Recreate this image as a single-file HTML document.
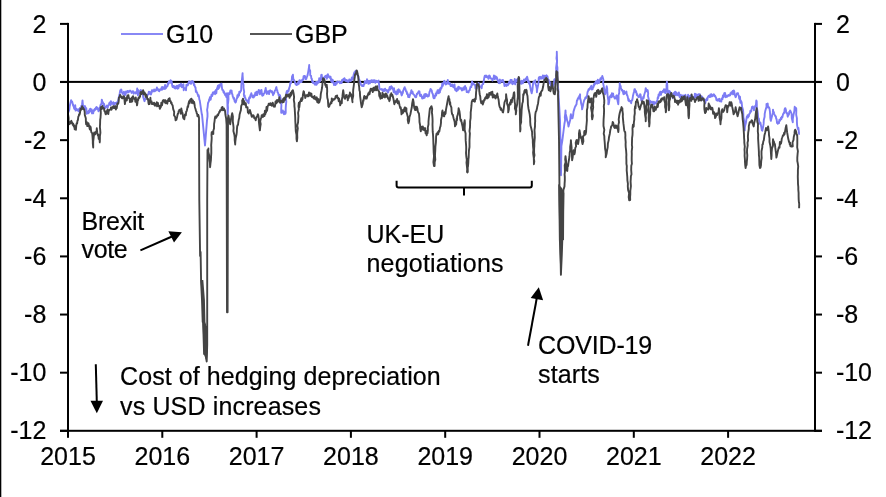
<!DOCTYPE html>
<html><head><meta charset="utf-8"><title>Chart</title>
<style>
html,body{margin:0;padding:0;background:#fff;}
body{width:886px;height:497px;overflow:hidden;position:relative;font-family:"Liberation Sans",sans-serif;}
svg{position:absolute;left:0;top:0;display:block;will-change:transform;opacity:0.999}
text{font-family:"Liberation Sans",sans-serif;font-size:25px;fill:#000;stroke:#000;stroke-width:0.2px}
</style></head><body>
<svg width="886" height="497" viewBox="0 0 886 497">
<rect x="0" y="0" width="886" height="497" fill="#fff"/>
<rect x="0" y="0" width="1.3" height="497" fill="#000"/>
<rect x="60" y="80.9" width="762" height="2" fill="#000"/>
<!-- series -->
<path d="M68.0,113.3 L69.3,109.7 L69.6,106.8 L70.5,102.8 L71.1,100.2 L71.4,100.7 L71.8,101.3 L72.2,101.9 L72.6,103.2 L72.9,104.6 L73.3,105.9 L73.7,106.2 L74.1,108.3 L74.5,109.0 L74.8,108.1 L75.2,105.1 L75.6,110.6 L76.0,108.9 L76.4,108.8 L76.8,110.2 L77.2,110.4 L77.6,110.4 L77.9,109.6 L78.3,111.0 L78.7,109.2 L79.1,111.3 L79.5,112.1 L79.9,108.0 L80.2,108.4 L80.6,107.8 L81.0,107.1 L81.4,105.7 L81.7,105.7 L82.1,104.2 L82.5,100.4 L82.9,105.1 L83.2,105.6 L83.6,105.8 L84.0,108.7 L84.4,106.3 L84.8,107.9 L85.1,106.2 L85.5,109.5 L85.9,107.8 L86.3,108.4 L86.6,113.7 L87.0,112.3 L87.4,112.0 L87.8,112.8 L88.2,113.3 L88.5,111.0 L88.9,111.1 L89.3,112.5 L89.7,109.1 L90.0,111.6 L90.4,108.8 L90.8,110.6 L91.2,110.3 L91.6,109.4 L92.0,113.4 L92.4,113.2 L92.8,111.9 L93.2,113.3 L93.6,110.1 L93.9,110.7 L94.3,110.8 L94.7,108.9 L95.1,109.7 L95.4,109.8 L95.8,107.8 L96.2,107.3 L96.6,106.9 L96.9,108.8 L97.3,107.9 L97.7,109.6 L98.1,108.6 L98.5,111.3 L98.8,109.4 L99.2,110.3 L99.6,107.7 L100.0,108.0 L100.3,105.9 L100.7,104.4 L101.1,104.3 L101.5,104.2 L101.8,99.6 L102.2,101.2 L102.6,101.9 L103.0,102.6 L103.4,103.5 L103.7,105.6 L104.1,103.9 L104.5,107.2 L104.9,106.9 L105.2,108.3 L105.6,107.7 L106.0,106.8 L106.4,106.2 L106.9,105.5 L107.3,106.1 L107.7,107.7 L108.1,105.9 L108.5,105.1 L108.9,104.3 L109.3,103.2 L109.7,102.4 L110.1,103.6 L110.5,105.3 L110.9,101.1 L111.3,103.6 L111.7,103.7 L112.1,102.8 L112.5,103.3 L112.9,103.9 L113.3,102.2 L113.7,104.9 L114.1,103.9 L114.5,104.4 L114.9,102.9 L115.3,103.6 L115.7,103.0 L116.1,103.2 L116.5,102.4 L116.9,103.9 L117.3,103.2 L118.4,99.9 L118.9,97.0 L119.6,93.9 L120.3,90.2 L120.7,90.8 L121.1,89.5 L121.5,90.1 L121.9,92.6 L122.3,92.9 L122.7,93.9 L123.1,93.2 L123.5,93.6 L123.9,91.8 L124.3,94.2 L124.7,95.5 L125.1,92.4 L125.6,94.5 L126.0,91.5 L126.4,91.8 L126.8,92.5 L127.2,91.5 L127.6,90.9 L128.0,92.5 L128.4,91.2 L128.8,92.0 L129.2,91.8 L129.6,91.0 L130.0,90.5 L130.4,91.1 L130.8,91.1 L131.2,91.8 L131.6,92.9 L132.0,91.8 L132.4,92.2 L132.8,91.2 L133.2,91.4 L133.6,93.7 L134.0,92.3 L134.4,92.4 L134.8,92.5 L135.2,92.9 L135.6,92.3 L136.0,93.6 L136.4,92.2 L136.8,93.0 L137.2,88.5 L137.6,91.7 L138.0,95.3 L138.4,90.1 L138.8,91.7 L139.2,92.8 L139.6,91.4 L140.0,92.9 L140.4,91.2 L140.8,90.0 L141.2,90.5 L141.6,92.1 L142.0,91.9 L142.4,93.2 L142.8,93.5 L143.2,97.1 L143.6,98.3 L144.0,99.6 L144.5,101.2 L144.9,99.7 L145.3,99.5 L145.7,98.1 L146.1,96.3 L146.5,96.2 L146.9,96.2 L147.3,95.4 L147.7,94.5 L148.1,94.6 L148.5,93.2 L148.9,91.6 L149.3,92.6 L149.7,91.9 L150.1,94.0 L150.5,92.8 L150.9,94.5 L151.3,93.7 L151.7,91.1 L152.1,90.1 L152.5,91.2 L152.9,91.6 L153.3,90.6 L153.7,90.7 L154.1,89.5 L154.5,91.4 L154.9,90.8 L155.3,90.9 L155.7,90.7 L156.1,89.2 L156.5,90.2 L156.9,87.4 L157.3,89.6 L157.7,89.1 L158.1,89.1 L158.5,90.8 L158.9,89.4 L159.3,91.3 L159.7,89.6 L160.1,90.1 L160.5,89.2 L160.9,89.6 L161.3,89.7 L161.7,87.1 L162.0,89.7 L162.4,88.3 L162.8,86.9 L163.2,88.6 L163.6,88.1 L163.9,89.0 L164.3,88.1 L164.7,87.5 L165.1,84.9 L165.4,88.7 L165.8,88.3 L166.2,87.3 L166.6,86.1 L167.0,86.1 L167.4,86.4 L167.8,83.3 L168.2,84.6 L168.6,83.2 L169.0,81.3 L169.4,82.4 L169.8,81.7 L170.2,82.8 L170.6,80.1 L171.0,82.6 L171.4,81.0 L171.8,82.0 L172.2,85.6 L172.6,87.1 L173.0,87.1 L173.4,86.4 L173.8,86.0 L174.2,87.7 L174.6,88.2 L175.0,86.6 L175.4,86.9 L175.7,88.6 L176.1,87.7 L176.5,86.3 L176.9,85.7 L177.3,86.6 L177.6,88.7 L178.0,85.8 L178.4,88.3 L178.8,85.1 L179.1,85.6 L179.5,86.5 L179.9,84.6 L180.3,85.4 L180.6,85.1 L181.0,83.7 L181.4,86.4 L181.8,87.2 L182.2,85.3 L182.6,86.5 L183.0,86.0 L183.4,84.2 L183.7,90.3 L184.1,88.0 L184.5,88.4 L184.9,88.2 L185.3,88.1 L185.7,88.2 L186.0,90.4 L186.4,84.7 L186.8,85.9 L187.2,85.1 L187.6,84.8 L187.9,85.2 L188.3,82.9 L188.7,83.1 L189.1,81.3 L189.5,81.4 L189.9,83.1 L190.3,83.5 L190.7,83.1 L191.1,83.8 L191.5,81.1 L191.9,82.7 L192.3,82.1 L192.7,81.1 L193.1,81.9 L193.5,82.2 L193.9,85.2 L194.3,84.3 L194.7,86.1 L195.1,87.0 L195.5,87.4 L195.9,91.9 L196.3,90.9 L196.7,92.2 L197.1,92.6 L197.5,93.9 L197.9,94.9 L198.2,96.3 L198.6,95.1 L199.0,96.8 L199.4,99.8 L199.7,100.2 L201.8,114.3 L202.0,114.3 L205.0,145.5 L207.0,120.3 L207.5,116.4 L207.5,113.2 L207.1,109.9 L207.6,107.1 L208.0,103.2 L208.4,102.2 L208.8,101.7 L209.2,99.2 L209.6,100.4 L209.9,97.1 L210.3,99.0 L210.7,99.6 L211.1,97.2 L211.5,94.7 L211.9,96.2 L212.3,95.9 L212.7,92.9 L213.1,92.2 L213.5,93.9 L213.9,93.1 L214.3,92.8 L214.7,91.4 L215.1,94.2 L215.5,91.7 L215.9,90.0 L216.3,93.4 L216.7,89.7 L217.1,88.2 L217.5,87.5 L217.9,85.7 L218.3,89.0 L218.7,85.1 L219.1,87.9 L219.5,87.0 L219.9,85.4 L220.3,84.1 L220.7,84.5 L221.1,84.1 L221.5,83.7 L221.9,87.3 L222.3,89.8 L222.7,90.0 L223.1,90.2 L223.5,92.4 L223.9,91.3 L224.3,93.5 L224.7,93.0 L225.1,95.2 L225.5,94.2 L225.9,95.3 L226.3,97.0 L226.7,93.7 L227.1,93.2 L227.7,114.3 L227.9,110.3 L228.0,107.8 L227.8,104.5 L228.2,102.0 L228.5,99.1 L228.4,96.9 L228.6,93.2 L228.9,93.9 L229.3,93.5 L229.7,94.1 L230.0,92.3 L230.4,90.5 L230.8,90.5 L231.2,91.2 L231.6,90.5 L232.0,94.0 L232.4,94.3 L232.8,96.6 L233.2,97.2 L233.6,98.9 L233.9,97.7 L234.3,99.6 L234.7,101.6 L235.0,100.9 L235.4,102.6 L235.8,102.2 L236.2,100.8 L236.6,98.7 L237.0,98.4 L237.4,95.3 L237.8,97.2 L238.2,95.2 L238.6,93.9 L239.0,95.6 L239.3,91.8 L239.7,92.8 L240.1,92.5 L240.5,91.2 L240.8,91.2 L241.2,90.2 L241.3,86.2 L241.5,83.0 L241.9,80.0 L242.3,76.2 L242.6,73.1 L242.6,75.1 L242.9,79.3 L242.8,82.0 L243.5,84.8 L243.5,87.9 L244.2,91.9 L243.8,94.2 L244.2,96.6 L244.6,95.4 L245.0,98.0 L245.4,98.0 L245.8,99.6 L246.2,100.2 L246.6,99.9 L247.1,101.2 L247.5,100.5 L247.9,102.2 L248.3,102.2 L248.6,103.2 L249.0,98.3 L249.4,97.2 L249.8,98.3 L250.1,97.5 L250.5,95.0 L250.9,95.0 L251.3,93.2 L251.7,94.5 L252.1,95.5 L252.5,97.3 L252.9,95.6 L253.3,97.2 L253.7,97.5 L254.0,96.4 L254.4,94.9 L254.8,95.8 L255.2,93.1 L255.5,92.4 L255.9,95.0 L256.3,93.2 L256.7,91.7 L257.1,95.0 L257.5,94.1 L257.9,92.1 L258.3,91.6 L258.7,89.9 L259.1,92.4 L259.5,90.4 L259.9,94.2 L260.3,92.2 L260.7,90.5 L261.1,93.0 L261.5,90.0 L261.8,93.2 L262.2,95.7 L262.6,93.9 L263.0,93.8 L263.3,95.2 L263.7,93.6 L264.1,93.6 L264.5,93.3 L264.9,90.9 L265.3,90.2 L265.7,87.9 L266.1,91.0 L266.5,92.1 L266.9,94.0 L267.2,91.6 L267.6,91.9 L268.0,91.3 L268.4,92.2 L268.7,93.0 L269.1,94.1 L269.5,90.6 L269.9,91.8 L270.3,90.3 L270.6,90.6 L271.0,91.1 L271.4,91.2 L271.8,92.4 L272.2,91.3 L272.6,92.6 L273.0,95.2 L273.4,94.2 L273.8,93.9 L274.1,93.3 L274.5,92.0 L274.9,90.4 L275.3,90.3 L275.7,89.5 L276.0,88.0 L276.4,87.1 L276.8,89.8 L277.2,90.0 L277.6,92.5 L278.0,92.8 L278.4,94.2 L278.8,95.7 L279.2,94.6 L279.6,95.3 L280.0,95.2 L280.4,97.2 L281.0,101.2 L281.4,105.3 L281.2,109.2 L281.2,112.7 L281.6,111.7 L282.0,112.8 L282.4,112.1 L282.8,110.4 L283.2,112.3 L283.6,111.6 L284.0,114.4 L284.5,111.8 L284.9,111.9 L285.3,113.9 L285.7,112.7 L285.7,108.5 L285.9,105.3 L286.3,101.6 L285.8,97.3 L286.1,95.2 L286.5,92.2 L286.9,91.1 L287.3,94.1 L287.7,91.4 L288.1,90.2 L288.5,91.2 L289.2,88.0 L289.8,86.4 L290.5,82.1 L290.9,83.4 L291.3,81.7 L291.7,80.5 L292.1,76.2 L292.5,76.1 L292.9,74.7 L293.3,79.0 L293.7,79.6 L294.1,80.2 L294.5,81.1 L294.9,81.8 L295.3,83.6 L295.7,84.2 L296.1,84.6 L296.5,85.1 L296.9,85.1 L297.3,83.6 L297.6,82.8 L298.0,84.3 L298.4,81.7 L298.8,83.8 L299.2,81.5 L299.5,80.1 L299.9,80.6 L300.3,82.3 L300.7,80.7 L301.1,81.5 L301.5,82.1 L301.9,80.5 L302.3,79.7 L302.7,79.3 L303.2,79.8 L303.6,76.1 L304.0,77.3 L304.4,76.0 L304.8,76.9 L305.2,76.3 L305.6,79.1 L306.0,79.2 L306.4,78.6 L306.8,77.1 L307.2,76.3 L307.6,75.1 L308.2,71.9 L308.8,68.5 L309.2,65.0 L309.3,68.9 L310.2,70.9 L310.2,75.1 L310.6,75.8 L311.0,75.7 L311.4,78.7 L311.8,78.7 L312.2,81.9 L312.6,81.1 L313.0,83.1 L313.4,81.7 L313.8,82.3 L314.2,82.8 L314.6,84.1 L315.0,84.7 L315.4,82.7 L315.7,84.3 L316.1,81.9 L316.5,84.8 L316.9,84.0 L317.3,81.8 L317.6,83.1 L318.0,81.8 L318.4,82.6 L318.8,82.5 L319.2,78.3 L319.6,81.7 L320.0,81.1 L321.0,77.9 L321.2,75.1 L321.7,74.7 L322.2,79.1 L322.6,79.1 L323.1,80.1 L323.4,79.9 L323.8,80.0 L324.2,77.3 L324.6,77.6 L324.9,76.6 L325.3,76.1 L325.7,77.1 L326.0,76.6 L326.4,75.5 L326.8,78.7 L327.2,77.2 L327.6,77.5 L327.9,74.3 L328.3,75.9 L328.7,76.1 L329.1,76.3 L329.4,77.0 L329.8,77.8 L330.2,76.6 L330.6,76.8 L330.9,79.5 L331.3,81.5 L331.7,79.1 L332.1,82.3 L332.5,80.0 L332.8,80.0 L333.2,81.8 L333.6,82.8 L334.0,85.0 L334.3,83.2 L334.7,84.1 L335.1,83.0 L335.5,85.0 L335.9,82.6 L336.3,82.3 L336.7,83.8 L337.1,82.7 L337.5,81.4 L337.9,82.2 L338.3,81.8 L338.7,82.1 L339.1,82.0 L339.5,81.6 L339.9,83.4 L340.3,82.5 L340.8,83.1 L341.2,81.7 L341.6,83.1 L342.0,80.0 L342.4,81.4 L342.8,80.5 L343.2,79.1 L343.6,79.0 L344.0,79.9 L344.4,78.1 L344.8,80.5 L345.2,79.3 L345.6,79.8 L346.0,81.1 L346.4,81.3 L346.8,80.0 L347.2,81.0 L347.6,81.2 L348.0,81.9 L348.4,81.0 L348.8,81.7 L349.2,79.4 L349.7,79.7 L350.1,80.1 L350.4,80.6 L350.8,81.0 L351.2,79.9 L351.6,78.4 L351.9,77.5 L352.3,77.4 L352.7,79.7 L353.1,78.1 L353.6,75.0 L354.5,72.1 L354.9,72.6 L355.3,72.2 L355.7,70.6 L356.1,73.7 L356.5,71.1 L356.9,72.5 L357.3,73.8 L357.7,75.7 L358.1,75.5 L358.5,77.1 L358.9,79.4 L359.3,79.9 L359.7,80.5 L360.1,83.1 L360.5,82.6 L360.9,84.8 L361.3,85.0 L361.7,85.3 L362.1,86.1 L362.5,85.2 L362.9,85.1 L363.2,86.0 L363.6,86.0 L364.0,83.9 L364.4,84.2 L364.8,81.2 L365.1,83.1 L365.5,81.5 L365.9,81.8 L366.3,81.3 L366.6,83.0 L367.0,79.3 L367.4,82.2 L367.8,82.2 L368.2,81.1 L368.5,83.9 L368.9,80.8 L369.3,82.0 L369.7,83.4 L370.0,82.9 L370.4,80.7 L370.8,81.6 L371.2,82.1 L371.6,80.3 L372.0,81.4 L372.4,81.7 L372.8,82.2 L373.2,80.1 L373.6,81.0 L373.9,81.7 L374.3,82.1 L374.7,80.1 L375.1,82.2 L375.4,82.8 L375.8,81.6 L376.2,82.1 L376.6,80.8 L377.0,81.9 L377.4,81.7 L377.8,82.1 L378.2,81.1 L378.6,80.6 L379.0,83.9 L379.4,88.4 L379.8,89.1 L380.2,89.2 L380.6,89.2 L381.0,89.3 L381.3,89.6 L381.7,89.0 L382.1,89.9 L382.5,90.6 L382.9,89.5 L383.2,91.2 L383.6,90.9 L384.0,91.2 L384.4,89.2 L384.7,90.1 L385.1,88.7 L385.5,90.5 L385.9,90.6 L386.2,90.2 L386.6,89.9 L387.1,91.1 L387.5,92.0 L387.9,92.6 L388.3,92.2 L388.6,89.8 L389.0,90.3 L389.4,88.2 L389.8,86.9 L390.1,89.6 L390.5,88.6 L390.9,88.4 L391.3,86.1 L391.7,87.9 L392.1,87.1 L392.5,88.8 L392.9,88.7 L393.3,90.2 L393.7,92.2 L394.0,88.1 L394.4,91.8 L394.8,91.0 L395.2,92.9 L395.5,93.9 L395.9,92.0 L396.3,93.2 L396.7,94.4 L397.1,93.7 L397.4,90.1 L397.8,93.9 L398.2,89.9 L398.6,89.3 L398.9,91.7 L399.3,90.2 L399.7,90.1 L400.1,92.0 L400.5,92.5 L400.9,92.1 L401.3,94.2 L401.7,95.4 L402.1,94.5 L402.5,92.0 L402.8,93.1 L403.2,90.4 L403.6,90.0 L404.0,88.5 L404.3,88.2 L404.7,87.2 L405.1,89.0 L405.5,88.9 L405.9,91.2 L406.2,91.5 L406.6,91.2 L407.0,94.1 L407.4,93.2 L407.8,94.4 L408.2,97.0 L408.6,95.1 L409.0,95.9 L409.4,97.2 L409.8,94.9 L410.2,94.7 L410.6,92.8 L411.0,91.6 L411.4,90.2 L411.8,93.1 L412.2,92.7 L412.6,91.8 L413.0,93.9 L413.4,94.2 L413.8,94.5 L414.2,95.0 L414.6,95.7 L415.0,96.7 L415.4,97.2 L415.8,97.3 L416.2,97.2 L416.5,95.4 L416.9,93.7 L417.3,94.1 L417.7,93.2 L418.0,92.5 L418.4,92.2 L418.8,91.2 L419.2,93.0 L419.5,91.5 L419.9,95.7 L420.3,95.6 L420.7,96.1 L421.1,94.6 L421.4,96.2 L421.8,96.9 L422.2,98.5 L422.6,97.1 L423.0,96.5 L423.4,98.2 L423.8,97.6 L424.2,94.5 L424.6,97.8 L425.0,96.7 L425.3,94.0 L425.7,96.0 L426.1,96.1 L426.5,94.2 L426.9,95.2 L427.3,95.4 L427.7,96.6 L428.1,95.3 L428.5,95.2 L428.9,95.9 L429.3,92.9 L429.7,91.3 L430.1,90.8 L430.5,88.9 L430.9,89.2 L431.3,90.6 L431.7,90.3 L432.1,92.6 L432.5,93.6 L432.9,94.2 L433.3,97.2 L433.7,98.3 L434.1,96.5 L434.5,98.2 L434.9,96.8 L435.3,95.6 L435.7,93.8 L436.1,95.6 L436.5,92.2 L436.9,93.5 L437.3,91.7 L437.6,90.1 L438.0,90.9 L438.4,91.6 L438.8,93.3 L439.2,89.8 L439.5,91.2 L439.9,92.3 L440.3,88.2 L440.7,89.8 L441.1,87.4 L441.5,88.2 L441.9,86.6 L442.3,83.3 L442.7,85.9 L443.2,84.2 L443.6,83.1 L443.9,82.0 L444.3,80.8 L444.7,83.4 L445.1,83.6 L445.4,82.0 L445.8,84.5 L446.2,83.8 L446.6,84.1 L447.0,82.4 L447.4,82.4 L447.8,80.0 L448.2,83.4 L448.6,82.1 L449.0,84.1 L449.4,83.5 L449.8,83.0 L450.2,84.0 L450.6,86.1 L451.0,85.6 L451.4,84.7 L451.8,86.0 L452.2,84.4 L452.6,86.4 L453.0,85.1 L453.4,87.3 L453.8,85.8 L454.1,86.3 L454.5,84.4 L454.9,88.8 L455.2,89.9 L455.6,90.2 L456.0,88.9 L456.4,91.2 L456.7,89.0 L457.1,88.2 L457.5,90.5 L457.9,89.9 L458.3,86.8 L458.6,89.2 L459.0,88.1 L459.4,87.2 L459.8,88.3 L460.2,88.6 L460.6,88.2 L461.0,88.0 L461.4,89.1 L461.9,90.4 L462.3,89.4 L462.7,90.2 L463.1,87.9 L463.5,87.6 L463.9,89.1 L464.3,89.5 L464.7,86.6 L465.1,86.1 L465.5,87.8 L465.9,87.6 L466.3,89.0 L466.7,92.1 L467.1,92.2 L467.5,91.3 L467.8,91.8 L468.2,91.4 L468.6,92.4 L468.9,91.0 L469.3,90.4 L469.7,90.2 L470.1,88.4 L470.5,86.7 L470.9,87.1 L471.3,87.1 L471.7,83.1 L472.1,81.5 L472.5,84.8 L472.8,82.7 L473.2,83.4 L473.6,84.0 L474.0,84.1 L474.3,84.4 L474.7,85.1 L475.1,85.0 L475.5,88.5 L475.9,85.2 L476.3,86.7 L476.7,88.2 L477.1,86.2 L477.5,86.3 L477.9,83.6 L478.3,84.1 L478.7,83.1 L479.1,84.0 L479.5,87.0 L479.9,86.3 L480.3,86.3 L480.8,87.1 L481.2,86.8 L481.6,88.3 L482.0,85.5 L482.4,84.3 L482.8,83.9 L483.2,84.1 L483.7,81.1 L484.4,77.2 L484.8,75.8 L485.2,76.2 L485.5,76.7 L485.9,75.5 L486.3,77.2 L486.7,75.8 L487.0,76.2 L487.4,76.9 L487.8,77.0 L488.2,78.3 L488.5,78.8 L488.9,75.8 L489.3,75.4 L489.7,75.7 L490.1,77.2 L490.5,78.2 L490.9,78.6 L491.3,78.4 L491.7,78.7 L492.1,79.2 L492.4,80.6 L492.8,79.5 L493.2,78.3 L493.6,78.4 L493.9,75.5 L494.3,78.3 L494.7,79.0 L495.1,76.2 L495.5,76.8 L495.9,76.5 L496.3,78.9 L496.7,77.2 L497.1,78.2 L497.5,79.3 L497.9,80.9 L498.3,81.0 L498.7,83.1 L499.1,83.2 L499.5,80.5 L499.9,79.6 L500.2,83.0 L500.6,82.3 L501.0,81.6 L501.4,80.5 L501.7,80.6 L502.1,80.2 L502.5,81.3 L502.9,80.0 L503.3,82.3 L503.7,81.7 L504.1,83.2 L504.5,86.0 L504.9,84.2 L505.3,84.3 L505.6,85.4 L506.0,85.6 L506.4,85.9 L506.8,84.2 L507.1,85.2 L507.5,84.9 L507.9,85.3 L508.3,84.0 L508.7,83.4 L509.0,82.0 L509.4,82.5 L509.8,83.4 L510.2,81.2 L510.5,79.9 L510.9,79.8 L511.3,80.2 L511.7,79.9 L512.0,83.4 L512.4,84.2 L512.8,82.7 L513.2,82.2 L513.6,82.2 L513.9,83.6 L514.3,83.1 L514.7,79.0 L515.1,81.5 L515.4,84.4 L515.8,80.9 L516.2,81.2 L516.6,79.9 L517.0,79.5 L517.4,81.6 L517.8,78.7 L518.2,79.2 L518.6,78.2 L519.0,80.9 L519.4,80.9 L519.8,82.0 L520.2,83.2 L520.6,81.7 L521.0,81.3 L521.3,83.8 L521.7,80.7 L522.1,83.3 L522.5,83.2 L522.9,83.3 L523.2,81.2 L523.6,80.6 L524.0,79.5 L524.4,80.2 L524.7,81.3 L525.1,80.0 L525.5,79.5 L525.9,78.4 L526.2,78.2 L526.6,79.7 L527.1,76.7 L527.5,78.0 L527.9,81.7 L528.3,80.2 L528.7,82.2 L529.1,83.9 L529.5,82.2 L529.9,84.8 L530.3,87.3 L530.9,90.2 L531.7,93.3 L532.5,89.3 L532.8,85.6 L533.3,82.2 L533.7,81.6 L534.1,81.9 L534.5,81.5 L534.9,81.8 L535.3,80.2 L535.4,83.6 L536.2,85.9 L536.8,88.9 L536.9,92.3 L537.3,89.0 L538.1,85.0 L538.6,81.9 L538.7,78.2 L539.1,77.2 L539.5,78.8 L539.8,77.9 L540.2,76.8 L540.6,77.3 L541.0,78.8 L541.3,77.2 L541.7,77.6 L542.1,76.9 L542.5,78.2 L542.8,75.5 L543.2,78.0 L543.6,78.8 L544.0,75.8 L544.3,77.2 L544.7,75.8 L545.1,75.9 L545.5,76.6 L545.9,75.8 L546.2,76.6 L546.6,75.3 L547.0,76.7 L547.4,76.2 L547.8,78.3 L548.2,79.6 L548.6,79.7 L549.0,82.8 L549.4,83.2 L549.8,81.8 L550.2,83.3 L550.6,84.4 L551.0,86.4 L551.4,85.2 L551.8,84.4 L552.2,85.2 L552.6,86.0 L553.0,86.0 L553.4,83.2 L553.9,84.0 L554.3,79.6 L554.8,79.2 L555.3,78.9 L555.7,78.5 L556.2,77.2 L556.4,74.3 L556.3,70.8 L556.1,68.0 L556.6,64.2 L557.0,61.2 L556.5,58.3 L556.8,55.2 L556.8,51.7 L556.9,55.4 L557.0,58.9 L557.1,61.2 L556.9,65.2 L557.4,67.5 L557.4,71.5 L557.4,74.5 L557.4,78.2 L557.4,81.4 L557.7,85.0 L558.2,88.8 L558.4,92.3 L560.0,120.4 L560.6,150.0 L561.0,175.3 L561.4,146.0 L562.4,140.0 L563.4,132.0 L564.4,124.0 L565.1,120.1 L564.8,117.2 L565.3,113.3 L565.5,110.4 L565.7,113.9 L566.6,117.4 L567.1,120.4 L567.9,122.7 L568.5,126.5 L569.4,123.1 L570.3,119.6 L570.5,116.4 L570.9,114.3 L571.3,117.1 L571.7,117.9 L572.1,118.4 L572.5,118.4 L573.2,114.8 L573.5,111.6 L574.5,108.4 L574.9,107.2 L575.3,106.0 L575.7,106.0 L576.1,104.8 L576.5,104.3 L576.9,100.5 L577.3,100.4 L577.7,98.8 L578.1,98.3 L578.5,97.2 L578.9,98.6 L579.3,95.9 L579.7,95.8 L580.1,94.3 L580.1,97.9 L580.8,100.6 L581.1,103.3 L581.9,106.3 L582.1,109.4 L582.9,106.0 L583.3,103.5 L584.2,100.3 L584.6,99.4 L585.0,99.1 L585.4,97.5 L585.8,97.2 L586.2,97.9 L586.6,96.3 L587.0,96.6 L587.4,93.0 L587.8,91.3 L588.2,90.8 L588.6,89.3 L589.0,90.0 L589.4,88.8 L589.8,89.3 L590.2,87.4 L590.6,87.3 L591.0,86.5 L591.4,85.8 L591.8,89.5 L592.2,89.2 L592.6,89.3 L593.0,87.3 L593.4,87.3 L593.8,84.3 L594.2,85.7 L594.6,83.2 L595.0,84.1 L595.4,83.8 L595.8,81.5 L596.2,83.3 L596.6,81.2 L597.0,82.4 L597.4,83.5 L597.8,79.8 L598.2,83.1 L598.6,82.2 L599.0,83.0 L599.4,80.3 L599.8,80.9 L600.2,79.2 L600.6,78.2 L601.0,79.7 L601.4,77.5 L601.9,77.7 L602.3,76.0 L602.7,77.2 L603.4,79.8 L603.1,82.8 L603.7,86.2 L604.4,90.3 L605.1,94.3 L606.0,91.0 L606.7,86.2 L607.2,88.6 L607.3,92.2 L607.6,95.4 L608.0,98.4 L608.4,100.9 L608.3,104.3 L608.7,104.1 L609.1,102.2 L609.5,98.7 L609.9,96.4 L610.3,96.3 L610.7,95.2 L611.1,96.1 L611.5,97.3 L611.9,93.3 L612.3,94.3 L612.7,94.3 L613.1,93.5 L613.5,96.6 L613.9,96.5 L614.3,97.0 L614.7,98.5 L615.1,98.3 L615.5,97.9 L615.9,98.5 L616.3,95.7 L616.7,95.3 L617.1,98.3 L617.8,102.0 L618.3,104.3 L618.5,101.1 L618.6,97.9 L618.5,95.4 L619.3,92.4 L619.2,89.7 L619.7,86.4 L619.7,83.2 L620.1,85.4 L620.6,85.9 L621.0,87.9 L621.4,89.5 L621.8,90.3 L622.2,89.7 L622.6,91.3 L623.0,91.9 L623.4,94.0 L623.8,94.3 L624.1,90.9 L624.5,93.9 L624.9,93.2 L625.3,92.7 L625.7,93.0 L626.0,92.2 L626.4,91.6 L626.8,94.9 L627.2,94.9 L627.6,96.3 L628.0,98.2 L628.4,100.5 L628.8,99.1 L629.2,101.4 L629.6,100.7 L629.9,101.0 L630.3,101.5 L630.7,100.9 L631.1,103.2 L631.5,101.2 L631.9,100.2 L632.3,100.1 L632.7,97.7 L633.1,95.2 L634.0,91.7 L634.5,89.2 L634.9,89.1 L635.3,91.2 L635.7,92.2 L636.1,91.1 L636.5,93.2 L636.9,95.2 L637.3,94.1 L637.7,95.9 L638.1,95.9 L638.5,97.2 L638.9,97.3 L639.3,96.7 L639.7,96.2 L640.1,94.2 L640.5,94.3 L640.9,96.8 L641.3,100.5 L641.7,99.0 L642.1,100.2 L642.5,99.8 L642.9,98.4 L643.3,96.6 L643.7,98.2 L644.1,95.2 L645.3,91.3 L645.7,88.2 L646.1,89.2 L646.5,91.2 L646.9,89.9 L647.3,89.9 L647.7,90.2 L648.2,93.6 L647.9,95.8 L648.7,98.9 L648.6,102.2 L648.9,102.2 L649.3,101.5 L649.7,104.5 L650.0,100.8 L650.4,102.5 L650.8,101.8 L651.2,102.2 L651.6,102.3 L652.0,101.6 L652.4,102.5 L652.8,103.6 L653.2,104.2 L653.6,104.4 L653.9,101.8 L654.3,103.9 L654.7,102.7 L655.0,103.5 L655.4,102.9 L655.8,103.2 L656.2,102.3 L656.6,101.3 L657.0,101.3 L657.4,99.9 L657.8,97.1 L658.2,98.2 L658.6,94.4 L659.0,94.5 L659.4,95.5 L659.8,92.2 L660.2,93.2 L660.6,91.7 L661.0,94.8 L661.3,92.0 L661.7,91.9 L662.1,92.3 L662.5,92.4 L662.9,90.8 L663.2,91.2 L663.6,91.4 L664.0,89.1 L664.4,92.0 L664.7,92.4 L665.1,89.8 L665.5,93.1 L665.8,92.2 L666.6,87.4 L666.5,85.9 L666.9,81.7 L667.3,85.2 L667.4,89.2 L667.9,93.2 L668.3,93.8 L668.7,91.8 L669.1,90.9 L669.5,92.7 L669.9,91.4 L670.3,92.2 L670.7,95.2 L671.1,93.0 L671.5,95.5 L671.9,95.9 L672.3,95.4 L672.7,98.2 L673.1,96.3 L673.5,93.3 L673.9,94.9 L674.3,93.2 L674.7,92.2 L675.0,91.9 L675.4,91.7 L675.8,95.3 L676.2,94.4 L676.6,92.7 L676.9,93.8 L677.3,94.2 L677.7,95.1 L678.1,95.3 L678.5,94.8 L678.9,92.5 L679.3,95.2 L679.7,97.4 L680.1,95.5 L680.4,97.6 L680.8,94.7 L681.2,97.4 L681.6,98.3 L682.0,98.3 L682.3,97.2 L682.7,95.5 L683.1,96.5 L683.5,98.4 L683.9,95.4 L684.3,96.2 L684.7,97.1 L685.1,96.2 L685.5,94.8 L685.9,97.8 L686.2,98.1 L686.6,97.7 L687.0,97.4 L687.4,97.2 L687.7,98.3 L688.1,94.6 L688.5,96.8 L688.9,98.7 L689.2,97.2 L689.6,97.7 L690.0,96.0 L690.4,96.2 L690.8,96.7 L691.1,95.1 L691.5,97.2 L691.9,97.0 L692.3,96.4 L692.6,96.9 L693.0,97.2 L693.4,97.2 L693.8,97.2 L694.1,97.6 L694.5,97.7 L694.9,93.6 L695.3,96.2 L695.7,97.0 L696.0,94.1 L696.4,95.2 L696.8,95.1 L697.2,98.3 L697.5,94.8 L697.9,96.9 L698.3,96.1 L698.7,94.2 L699.0,95.8 L699.4,96.2 L699.8,94.1 L700.2,96.0 L700.6,97.7 L700.9,97.5 L701.3,97.2 L701.7,96.3 L702.1,97.8 L702.4,97.2 L702.8,99.3 L703.2,99.4 L703.6,100.3 L703.9,100.3 L704.3,100.9 L704.7,99.9 L705.1,103.4 L705.5,102.2 L705.8,100.2 L706.2,99.7 L706.6,99.1 L707.0,98.3 L707.3,100.1 L707.7,97.5 L708.1,96.6 L708.5,96.2 L708.8,95.6 L709.2,95.7 L709.6,97.0 L710.0,97.0 L710.4,94.4 L710.7,96.7 L711.1,95.2 L711.5,94.2 L711.9,94.8 L712.2,96.3 L712.6,95.1 L713.0,95.6 L713.4,95.6 L713.8,94.3 L714.1,94.5 L714.5,96.2 L714.9,95.5 L715.3,96.2 L715.6,97.0 L716.0,97.6 L716.4,100.0 L716.8,99.2 L717.1,100.6 L717.5,100.2 L717.9,100.8 L718.3,99.4 L718.7,100.3 L719.0,98.9 L719.4,98.8 L719.8,101.4 L720.2,101.0 L720.5,101.2 L720.9,100.9 L721.3,101.6 L721.7,98.4 L722.1,99.4 L722.5,99.2 L722.9,95.5 L723.4,96.1 L723.8,96.9 L724.2,93.3 L724.6,94.2 L725.0,93.0 L725.4,94.6 L725.8,97.4 L726.2,96.7 L726.6,96.2 L726.9,95.8 L727.3,96.7 L727.7,95.9 L728.1,95.2 L728.5,94.9 L728.8,95.9 L729.2,95.1 L729.6,95.2 L730.0,95.5 L730.4,93.3 L730.8,94.3 L731.2,92.3 L731.6,92.2 L732.0,93.4 L732.3,93.0 L732.7,90.9 L733.1,94.3 L733.5,91.9 L733.8,90.5 L734.2,91.2 L734.6,94.2 L735.6,97.2 L736.0,96.5 L736.4,94.7 L736.8,93.5 L737.2,93.4 L737.6,93.2 L738.0,93.1 L738.4,94.8 L738.8,95.7 L739.2,98.5 L739.6,99.2 L740.0,96.8 L740.4,102.8 L740.8,100.5 L741.2,101.5 L741.6,102.2 L742.1,106.8 L743.1,110.3 L743.3,113.4 L743.4,117.3 L744.0,120.0 L744.5,123.2 L744.7,127.1 L744.7,130.4 L744.9,126.8 L745.8,123.3 L746.3,120.0 L746.8,116.7 L747.2,116.7 L747.6,115.1 L748.0,117.6 L748.4,115.4 L748.8,116.4 L749.2,113.9 L749.6,113.8 L750.0,113.1 L750.4,110.6 L750.8,110.8 L751.2,111.6 L751.6,109.2 L752.0,106.9 L752.4,106.8 L752.8,106.4 L753.2,108.0 L753.6,107.4 L754.0,110.3 L754.4,108.2 L754.8,107.3 L755.2,105.9 L755.5,105.5 L755.9,105.4 L756.3,100.5 L756.7,101.2 L756.8,103.9 L756.8,107.3 L757.5,110.9 L757.9,113.9 L758.1,116.7 L758.5,118.6 L758.9,118.6 L759.3,123.7 L759.7,123.3 L760.1,122.3 L760.5,122.8 L760.9,125.1 L761.4,127.6 L761.8,130.1 L762.3,130.8 L763.0,127.6 L763.6,123.9 L763.8,119.9 L764.6,116.7 L764.7,113.9 L765.4,110.4 L766.5,106.7 L766.5,104.0 L766.9,104.6 L767.3,104.2 L767.7,103.6 L768.1,107.6 L768.6,106.9 L769.0,107.5 L769.4,108.2 L769.9,111.3 L770.2,115.2 L770.3,117.9 L770.8,120.9 L771.6,117.7 L772.8,112.9 L773.0,109.6 L773.4,112.6 L773.8,112.0 L774.2,113.8 L774.6,114.6 L775.0,115.3 L775.4,116.3 L775.8,116.2 L776.2,118.9 L776.6,119.0 L777.0,123.0 L777.4,123.0 L777.8,123.7 L778.2,122.4 L778.6,122.1 L779.0,123.2 L779.4,119.6 L779.8,120.9 L780.2,120.3 L780.6,119.5 L781.0,117.6 L781.4,119.1 L781.8,116.6 L782.3,117.5 L782.7,115.7 L783.1,113.9 L783.5,113.8 L783.9,112.6 L784.3,112.8 L784.6,109.4 L785.0,108.4 L785.4,108.2 L785.8,109.5 L786.2,111.7 L786.6,113.2 L786.9,112.7 L787.3,113.8 L787.7,116.7 L788.1,115.7 L788.5,114.8 L788.9,114.6 L789.3,111.6 L789.7,112.0 L790.1,110.5 L790.5,111.0 L791.6,113.8 L791.8,118.3 L792.8,122.3 L792.8,119.0 L793.4,115.3 L793.8,113.6 L794.4,110.6 L794.7,106.8 L795.2,108.7 L795.7,107.9 L796.2,108.2 L796.3,110.4 L796.2,114.9 L796.9,118.1 L796.9,121.2 L797.1,125.1 L797.6,127.9 L798.0,129.2 L798.4,127.8 L798.7,130.6 L799.1,133.9 L799.5,133.6" fill="none" stroke="#7c7cf4" stroke-width="1.9" stroke-linejoin="round"/>
<path d="M68.0,113.9 L68.6,117.8 L68.6,120.3 L69.0,124.3 L69.4,124.2 L69.8,122.7 L70.2,122.0 L70.6,123.4 L70.9,121.6 L71.3,120.8 L71.7,122.9 L72.1,122.3 L72.4,123.4 L72.8,124.9 L73.2,123.6 L73.6,125.9 L73.9,126.6 L74.3,125.4 L74.7,129.3 L75.1,129.4 L75.5,128.3 L75.9,129.8 L76.3,125.1 L76.7,123.1 L77.1,123.6 L77.5,120.6 L77.9,120.1 L78.3,116.8 L78.7,116.1 L79.1,114.3 L79.5,114.8 L79.9,113.3 L80.2,111.5 L80.6,108.7 L81.0,109.9 L81.4,108.4 L81.7,108.3 L82.1,106.2 L82.5,107.2 L82.9,109.0 L83.3,108.0 L83.7,109.0 L84.1,109.3 L84.7,111.7 L84.8,115.0 L85.8,118.3 L85.9,121.6 L86.1,124.3 L86.5,124.1 L86.9,122.3 L87.3,126.1 L87.6,124.3 L88.0,126.0 L88.4,123.2 L88.8,124.6 L89.2,125.3 L89.5,128.2 L89.9,129.4 L90.3,126.5 L90.7,127.4 L91.0,130.3 L91.4,132.4 L91.8,132.6 L92.2,133.4 L92.5,136.4 L92.8,141.0 L92.8,143.2 L93.2,147.5 L93.2,144.8 L93.2,141.4 L93.6,138.4 L93.9,135.4 L94.2,132.4 L94.6,134.6 L94.9,133.0 L95.3,134.3 L95.7,132.2 L96.1,131.7 L96.4,132.9 L96.8,128.3 L97.2,132.4 L97.6,133.8 L97.9,135.5 L98.3,134.9 L98.7,138.8 L99.1,138.8 L99.4,137.4 L99.8,142.4 L99.9,138.8 L99.9,136.0 L100.4,132.9 L100.2,129.8 L99.9,127.1 L100.1,123.5 L100.2,119.6 L100.5,117.8 L100.8,113.3 L100.7,109.9 L100.8,107.3 L101.2,107.4 L101.6,106.8 L102.0,108.8 L102.4,106.0 L102.8,107.6 L103.2,108.3 L103.6,107.7 L104.0,108.5 L104.4,111.2 L104.7,111.0 L105.1,112.2 L105.5,113.8 L105.9,114.3 L106.2,113.3 L106.6,110.9 L107.1,113.3 L107.5,109.5 L107.9,111.6 L108.3,114.1 L108.7,110.6 L109.1,109.9 L109.5,110.3 L109.9,109.7 L110.3,109.3 L110.6,108.9 L111.0,107.4 L111.4,109.7 L111.8,109.0 L112.2,107.1 L112.5,107.5 L112.9,107.6 L113.3,106.2 L113.7,108.0 L114.0,107.3 L114.4,108.0 L114.8,106.9 L115.2,106.0 L115.5,107.0 L115.9,109.5 L116.3,108.3 L116.7,108.3 L117.1,105.7 L117.4,103.3 L117.8,103.2 L118.2,103.8 L118.6,101.9 L118.9,97.6 L119.3,97.2 L119.7,97.0 L120.1,94.9 L120.5,95.3 L120.9,97.1 L121.3,96.7 L121.7,98.0 L122.1,98.3 L122.5,97.6 L122.9,98.2 L123.3,96.2 L123.7,96.4 L124.1,96.6 L124.5,99.9 L124.9,104.1 L125.3,101.2 L125.7,101.0 L126.1,98.0 L126.5,99.3 L126.9,100.3 L127.2,96.0 L127.6,97.9 L128.0,95.1 L128.4,95.2 L128.8,98.0 L129.2,98.3 L129.6,98.6 L130.0,102.1 L130.4,100.2 L130.8,99.2 L131.1,98.5 L131.5,101.8 L131.9,97.4 L132.3,101.5 L132.6,97.9 L133.0,96.1 L133.4,97.2 L133.8,97.8 L134.2,98.6 L134.6,99.3 L135.0,99.3 L135.4,101.8 L135.8,97.5 L136.2,100.6 L136.6,101.6 L137.0,105.3 L137.4,103.2 L137.8,99.1 L138.2,100.2 L138.5,97.8 L138.9,97.2 L139.3,97.9 L139.7,96.3 L140.1,96.5 L140.4,93.2 L140.8,92.1 L141.2,93.1 L141.6,94.1 L141.9,93.5 L142.3,91.4 L142.7,93.3 L143.1,90.1 L143.4,91.2 L143.8,94.3 L144.2,92.4 L144.6,92.5 L145.0,93.6 L145.3,94.9 L145.7,96.7 L146.1,94.5 L146.5,95.2 L146.9,96.3 L147.3,99.3 L147.7,98.7 L148.1,99.2 L148.5,103.2 L148.8,104.2 L149.2,102.2 L149.6,104.1 L150.0,100.7 L150.4,97.8 L150.7,102.1 L151.1,101.7 L151.5,101.2 L151.9,104.0 L152.2,103.0 L152.6,103.2 L153.0,104.1 L153.4,103.2 L153.8,104.3 L154.1,102.8 L154.5,105.2 L154.9,105.7 L155.3,103.6 L155.6,103.8 L156.0,105.3 L156.4,105.3 L156.8,102.3 L157.1,106.4 L157.5,103.2 L157.9,102.9 L158.3,105.4 L158.7,106.1 L159.0,105.6 L159.4,106.0 L159.8,108.9 L160.2,108.0 L160.5,107.3 L160.9,107.0 L161.3,102.8 L161.7,103.5 L162.0,105.4 L162.4,103.1 L162.8,100.6 L163.2,100.2 L163.6,100.2 L163.9,100.0 L164.3,101.7 L164.7,101.5 L165.1,102.7 L165.4,100.3 L165.8,103.2 L166.2,101.2 L166.6,102.2 L166.9,101.3 L167.3,103.7 L167.7,100.8 L168.1,100.0 L168.5,99.4 L168.8,98.7 L169.2,101.0 L169.6,98.2 L170.0,101.1 L170.3,101.0 L170.7,101.1 L171.1,103.2 L171.5,102.5 L171.8,104.1 L172.2,104.9 L172.6,105.2 L173.2,109.1 L174.2,111.9 L174.0,115.2 L175.2,117.1 L175.6,120.3 L176.0,119.2 L176.4,119.7 L176.7,118.6 L177.1,117.0 L177.5,114.9 L177.9,113.6 L178.3,113.6 L178.6,111.3 L179.0,111.0 L179.4,109.7 L179.8,110.0 L180.1,110.6 L180.5,111.1 L180.9,113.8 L181.3,108.4 L181.6,110.3 L182.0,112.3 L182.4,112.7 L182.8,114.6 L183.1,117.4 L183.5,118.5 L183.9,117.8 L184.3,119.3 L184.6,117.1 L185.0,114.4 L185.4,114.9 L185.8,115.3 L186.2,111.7 L186.5,111.6 L186.9,110.2 L187.3,108.3 L187.7,106.2 L188.1,106.9 L188.4,104.3 L188.8,102.4 L189.2,101.0 L189.6,103.2 L189.9,100.4 L190.3,99.6 L190.7,99.2 L191.1,100.8 L191.5,98.8 L191.8,102.9 L192.2,101.7 L192.6,100.3 L193.0,100.6 L193.3,103.4 L193.7,102.2 L194.1,101.9 L194.5,104.1 L194.8,106.4 L195.2,108.0 L195.6,109.2 L196.0,111.1 L196.4,111.4 L196.7,113.3 L197.1,113.7 L197.5,116.3 L197.9,116.0 L198.3,115.0 L198.7,116.3 L199.0,118.0 L199.3,200.0 L200.1,256.0 L200.6,252.0 L201.1,282.0 L202.0,300.0 L202.7,322.0 L203.0,318.0 L204.1,354.0 L205.2,352.0 L206.7,361.5 L207.2,345.0 L207.2,200.0 L207.5,150.0 L208.0,151.7 L208.4,148.5 L208.3,151.6 L209.1,155.2 L209.3,157.6 L209.6,160.8 L209.9,162.6 L210.1,167.2 L210.5,163.2 L210.9,160.3 L211.1,156.3 L211.3,153.1 L211.3,150.1 L211.3,147.2 L211.2,145.2 L211.6,140.2 L211.7,137.5 L211.5,134.9 L211.7,132.2 L212.1,131.9 L212.5,133.4 L212.9,133.1 L213.3,134.0 L213.3,130.8 L214.0,128.5 L214.1,123.9 L214.5,121.6 L214.9,118.1 L215.3,116.5 L215.7,116.4 L216.1,117.9 L216.5,116.7 L216.9,116.7 L217.3,115.1 L217.7,114.4 L218.1,115.3 L218.5,113.8 L218.9,113.1 L219.3,111.8 L219.7,111.9 L220.1,110.3 L220.5,110.7 L220.9,110.3 L221.3,109.8 L221.7,107.4 L222.1,108.3 L222.5,107.0 L222.9,110.2 L223.2,109.4 L223.6,109.9 L224.0,108.5 L224.4,110.2 L224.8,110.0 L225.1,111.3 L225.4,114.5 L226.1,118.3 L226.6,125.0 L227.0,312.2 L227.6,312.2 L228.0,118.0 L228.4,115.5 L228.8,117.3 L229.5,121.4 L230.2,124.3 L230.7,120.7 L231.3,117.3 L232.2,113.3 L232.9,116.4 L232.8,121.4 L233.2,124.3 L233.6,127.8 L233.4,131.0 L234.4,135.1 L234.7,137.5 L234.7,140.2 L235.2,144.5 L235.3,142.0 L235.8,137.7 L236.5,134.6 L236.8,132.2 L236.9,129.7 L237.2,126.4 L237.6,125.1 L238.0,125.0 L238.4,121.6 L238.8,119.4 L239.2,118.3 L239.6,114.6 L240.1,112.8 L240.9,110.0 L241.2,106.2 L242.3,103.6 L242.2,100.2 L242.6,101.1 L243.0,98.7 L243.4,100.5 L243.8,104.2 L244.2,101.2 L244.6,103.2 L245.0,103.4 L245.4,105.3 L245.8,103.3 L246.2,107.3 L246.6,107.0 L247.1,107.4 L247.5,107.2 L247.9,112.4 L248.3,112.3 L248.7,113.5 L249.1,111.6 L249.5,112.2 L249.9,110.0 L250.3,111.3 L250.7,112.7 L251.1,114.0 L251.5,115.9 L251.9,116.8 L252.3,115.3 L252.7,116.4 L253.0,115.9 L253.4,115.2 L253.8,115.9 L254.2,118.1 L254.5,118.4 L254.9,118.0 L255.3,118.3 L255.7,120.3 L256.0,118.5 L256.4,117.2 L256.8,116.5 L257.2,116.5 L257.6,114.7 L257.9,114.3 L258.3,115.3 L258.7,118.0 L258.9,121.9 L259.2,125.0 L259.6,128.1 L259.9,130.4 L260.3,126.5 L260.7,124.2 L260.2,121.4 L260.9,118.3 L261.3,117.9 L261.7,115.1 L262.1,115.4 L262.5,116.4 L262.9,117.0 L263.3,114.3 L263.7,115.9 L264.1,116.1 L264.5,115.9 L264.9,110.7 L265.3,114.3 L265.7,112.1 L266.1,112.3 L266.5,107.0 L266.9,110.9 L267.2,109.9 L267.6,106.4 L268.0,105.8 L268.4,105.2 L268.7,103.8 L269.1,105.0 L269.5,104.8 L269.9,104.7 L270.3,103.1 L270.6,105.0 L271.0,103.9 L271.4,104.2 L271.8,105.9 L272.1,105.2 L272.5,102.8 L272.9,103.1 L273.3,105.6 L273.6,105.0 L274.0,106.7 L274.4,106.2 L274.8,106.7 L275.2,104.8 L275.5,101.5 L275.9,101.5 L276.3,103.3 L276.7,100.2 L277.0,102.6 L277.4,100.2 L277.8,100.3 L278.2,101.5 L278.5,99.7 L278.9,101.1 L279.3,97.2 L279.7,101.4 L280.1,102.8 L280.4,102.2 L280.8,100.8 L281.2,100.8 L281.6,101.8 L281.9,101.8 L282.3,100.4 L282.7,102.5 L283.1,99.0 L283.4,101.2 L283.8,102.0 L284.2,97.6 L284.7,97.6 L285.1,99.9 L285.5,97.2 L285.8,95.6 L286.2,94.6 L286.6,96.9 L287.0,95.4 L287.3,95.0 L287.7,95.4 L288.1,95.2 L288.5,96.2 L288.8,94.5 L289.2,94.2 L289.6,97.8 L290.0,94.2 L290.4,96.3 L290.7,92.6 L291.1,95.2 L291.5,94.2 L292.0,91.0 L292.4,90.8 L292.9,90.2 L293.6,93.4 L294.1,97.2 L293.8,99.9 L294.4,103.5 L294.4,106.1 L294.7,108.4 L294.9,111.9 L295.1,115.2 L295.2,117.1 L295.3,121.1 L295.5,124.3 L295.6,127.5 L295.8,131.3 L296.5,134.9 L296.5,138.9 L296.9,141.4 L297.3,137.8 L297.2,134.2 L297.3,132.2 L297.8,128.4 L297.3,125.4 L298.1,122.3 L298.2,119.5 L298.4,116.1 L298.1,112.9 L298.9,109.2 L298.5,106.2 L298.9,102.6 L299.3,107.3 L299.7,103.8 L300.1,101.3 L300.5,101.2 L300.9,99.9 L301.3,98.2 L301.7,101.0 L302.1,99.8 L302.5,99.2 L302.9,95.0 L303.6,91.2 L304.0,91.8 L304.4,95.1 L304.8,94.5 L305.2,98.0 L305.6,97.2 L305.9,95.6 L306.3,95.6 L306.7,95.4 L307.1,94.9 L307.4,95.2 L307.8,96.4 L308.2,96.3 L308.6,94.2 L309.0,92.4 L309.4,95.6 L309.8,93.7 L310.2,95.7 L310.6,93.2 L311.0,93.7 L311.4,93.6 L311.8,96.7 L312.2,97.3 L312.6,97.2 L313.0,96.8 L313.4,97.7 L313.7,98.1 L314.1,98.7 L314.5,96.0 L314.9,97.0 L315.2,99.0 L315.6,99.2 L316.0,99.8 L316.4,98.9 L316.8,97.3 L317.2,102.0 L317.6,99.8 L318.0,98.9 L318.4,102.9 L318.8,102.5 L319.2,102.5 L319.6,101.2 L320.5,97.8 L320.8,93.9 L321.6,90.2 L322.1,87.5 L322.5,83.6 L322.6,80.9 L323.1,78.1 L323.5,79.0 L323.9,79.2 L324.3,79.1 L324.7,81.2 L325.1,84.1 L325.5,85.4 L325.9,85.7 L326.3,87.4 L326.7,84.6 L327.1,88.2 L327.2,91.6 L327.0,93.6 L327.3,97.8 L327.9,99.9 L328.1,103.2 L328.3,106.2 L328.7,106.9 L329.1,106.6 L329.5,105.6 L329.9,104.1 L330.3,104.0 L330.7,102.2 L331.1,103.0 L331.5,103.2 L331.8,98.4 L332.2,101.2 L332.6,100.5 L333.0,100.2 L333.3,99.2 L333.7,99.2 L334.1,98.9 L334.5,99.4 L334.8,98.7 L335.2,98.4 L335.6,96.4 L336.0,95.9 L336.4,96.4 L336.7,97.2 L337.1,95.4 L337.5,98.1 L337.9,98.4 L338.3,97.8 L338.7,101.2 L339.1,98.7 L339.5,101.0 L339.9,101.1 L340.2,105.4 L340.6,103.7 L341.0,101.6 L341.4,102.3 L341.8,103.2 L341.9,99.6 L342.4,96.7 L342.7,93.8 L343.2,90.2 L343.9,95.2 L344.4,98.2 L344.8,96.2 L345.1,98.9 L345.5,97.2 L345.9,95.3 L346.3,97.0 L346.7,95.0 L347.0,97.2 L347.4,96.8 L347.8,100.4 L348.2,97.9 L348.6,98.2 L349.0,95.2 L349.5,96.7 L349.9,92.5 L350.3,95.2 L350.7,94.6 L351.1,94.2 L351.9,97.7 L352.5,102.2 L352.3,100.1 L353.2,95.9 L353.1,92.7 L353.2,89.8 L353.7,86.1 L354.1,83.0 L354.3,80.1 L354.8,76.9 L355.1,74.1 L355.5,74.9 L355.9,73.2 L356.3,72.1 L356.7,70.4 L357.1,71.1 L357.8,74.7 L358.2,76.2 L358.5,80.1 L358.7,83.8 L359.2,87.2 L359.4,90.2 L359.9,91.8 L360.1,96.2 L360.6,99.8 L361.0,103.1 L361.7,107.3 L362.8,103.7 L363.1,100.2 L363.5,101.0 L363.9,97.5 L364.3,96.0 L364.7,97.9 L365.1,98.2 L365.5,98.6 L365.9,96.8 L366.3,98.4 L366.7,98.6 L367.1,97.2 L367.5,95.5 L367.9,95.1 L368.4,93.1 L368.8,94.7 L369.2,92.2 L369.6,94.1 L370.0,91.7 L370.4,89.6 L370.8,88.7 L371.2,89.2 L371.6,89.0 L372.0,90.8 L372.4,88.7 L372.8,92.1 L373.2,90.2 L373.6,87.8 L374.0,88.9 L374.4,90.3 L374.8,90.3 L375.2,87.1 L375.6,86.4 L376.0,87.9 L376.4,90.2 L376.8,88.0 L377.2,86.1 L377.4,89.3 L379.1,91.6 L379.2,95.2 L379.6,96.9 L380.0,93.0 L380.4,98.7 L380.8,95.6 L381.2,97.2 L381.6,98.2 L382.0,98.3 L382.4,92.8 L382.7,94.6 L383.1,97.0 L383.5,94.2 L383.9,96.3 L384.2,96.2 L384.6,94.5 L385.0,97.5 L385.4,94.4 L385.8,93.5 L386.2,95.4 L386.6,94.2 L387.0,97.0 L387.4,96.0 L387.8,97.6 L388.1,98.9 L388.5,98.5 L388.9,98.5 L389.3,101.2 L389.7,100.4 L390.1,97.5 L390.5,94.4 L390.9,96.0 L391.3,93.2 L391.7,94.8 L392.1,95.4 L392.5,95.1 L392.9,96.9 L393.3,98.2 L393.9,101.5 L394.3,104.2 L394.7,102.2 L395.1,101.3 L395.5,102.3 L395.9,101.3 L396.3,100.2 L396.7,101.6 L397.1,98.9 L397.5,102.1 L397.9,103.4 L398.3,102.4 L398.7,101.2 L399.5,105.2 L400.3,108.3 L400.7,107.4 L401.1,109.6 L401.5,114.3 L401.9,109.9 L402.3,113.3 L402.7,110.8 L403.1,112.9 L403.5,109.9 L403.9,109.2 L404.3,109.3 L404.7,107.4 L405.1,111.3 L405.6,107.8 L406.0,108.1 L406.4,108.3 L406.4,111.7 L407.2,114.5 L407.9,117.4 L407.7,119.8 L408.4,123.3 L409.1,121.0 L409.4,117.2 L410.4,114.3 L411.0,111.1 L411.8,107.3 L412.2,103.4 L413.0,99.2 L413.6,102.2 L413.9,105.6 L414.4,108.3 L414.8,109.1 L415.2,110.1 L415.5,106.7 L415.9,110.0 L416.3,107.9 L416.7,106.6 L417.0,107.5 L417.4,108.3 L417.8,111.5 L419.0,113.8 L419.4,118.3 L419.5,122.0 L420.1,125.2 L420.2,128.1 L420.8,131.4 L421.2,126.6 L421.6,128.1 L422.0,129.4 L422.4,129.1 L422.8,126.4 L423.2,129.7 L423.6,128.3 L424.0,128.1 L424.5,130.4 L424.8,130.2 L425.2,128.3 L425.6,133.5 L426.0,133.6 L426.3,130.9 L426.7,135.3 L427.1,131.1 L427.5,133.4 L427.9,130.0 L427.8,127.6 L428.5,124.3 L428.5,121.7 L428.8,118.0 L429.2,114.8 L429.5,111.9 L429.9,108.3 L430.3,108.6 L430.7,107.4 L431.1,106.6 L431.5,106.2 L432.2,108.9 L431.9,112.7 L432.2,114.5 L432.5,118.3 L432.6,121.3 L432.5,124.7 L432.6,127.7 L432.7,131.7 L433.0,134.3 L433.2,137.6 L433.3,140.4 L433.4,144.0 L433.5,145.6 L433.6,150.0 L433.7,152.6 L434.0,156.5 L433.8,158.3 L433.4,162.2 L434.0,166.0 L434.6,166.0 L434.7,162.1 L435.3,159.8 L435.0,155.9 L435.1,153.1 L435.3,150.0 L435.4,146.6 L435.9,142.3 L436.0,140.4 L436.1,136.4 L436.5,133.8 L436.9,134.8 L437.3,133.8 L437.7,132.1 L438.1,134.4 L438.5,132.4 L438.9,130.7 L439.3,131.6 L439.7,129.4 L440.1,127.2 L440.5,126.4 L441.0,122.6 L441.0,120.0 L441.8,116.4 L442.1,112.3 L442.5,110.5 L442.9,115.4 L443.4,115.9 L443.8,115.4 L444.2,116.3 L444.6,112.2 L445.1,114.4 L445.6,113.3 L445.9,110.2 L446.5,106.8 L447.0,104.2 L447.7,100.2 L448.6,96.2 L449.0,99.8 L449.4,99.1 L449.8,104.1 L450.2,102.2 L450.4,105.2 L451.4,107.5 L451.6,111.3 L452.0,113.6 L452.4,114.7 L452.8,114.6 L453.2,116.6 L453.6,118.3 L454.7,122.1 L455.0,126.4 L455.4,125.6 L455.8,124.6 L456.2,124.5 L456.6,118.5 L457.0,120.3 L457.1,116.6 L457.8,114.6 L458.4,111.1 L458.6,108.3 L459.5,111.6 L459.9,114.6 L460.2,118.3 L460.7,120.9 L461.2,119.9 L461.6,122.3 L462.6,126.8 L463.1,130.4 L464.0,126.8 L463.9,124.1 L464.7,120.3 L464.9,123.4 L464.7,127.4 L464.7,130.1 L465.6,133.6 L465.6,137.3 L465.7,140.4 L466.0,144.1 L466.2,146.6 L466.2,150.0 L466.0,153.0 L466.3,156.5 L466.8,159.8 L466.5,162.7 L466.8,165.5 L467.2,169.2 L467.0,172.0 L467.4,172.5 L467.8,172.0 L467.7,167.5 L468.0,166.3 L468.3,162.6 L468.4,159.7 L468.7,157.1 L468.8,153.0 L469.0,150.0 L469.5,147.0 L469.5,143.5 L469.5,140.0 L469.7,136.4 L469.9,133.4 L469.5,131.1 L470.0,127.1 L470.1,124.0 L470.1,121.3 L470.6,118.2 L470.7,114.6 L470.7,112.3 L471.2,108.4 L471.5,105.2 L471.7,102.2 L472.1,101.2 L472.5,100.0 L472.9,99.8 L473.3,101.1 L473.7,101.2 L474.1,99.4 L474.5,100.1 L474.9,101.7 L475.3,98.4 L475.7,99.2 L475.9,95.6 L476.1,92.2 L476.5,89.2 L476.7,85.1 L477.1,83.8 L477.5,84.3 L477.9,84.1 L478.3,84.1 L479.1,87.0 L479.3,91.2 L479.7,94.2 L480.3,96.8 L480.5,99.3 L481.2,103.2 L481.6,102.5 L482.0,102.9 L482.4,101.1 L482.8,104.5 L483.2,103.2 L483.5,102.5 L483.9,100.9 L484.3,99.5 L484.7,100.0 L485.0,98.3 L485.4,97.5 L485.8,98.3 L486.2,96.5 L486.5,98.3 L486.9,94.1 L487.3,94.5 L487.7,98.3 L488.0,95.3 L488.4,96.4 L488.8,96.9 L489.2,93.0 L489.6,94.8 L489.9,94.9 L490.3,94.4 L490.7,92.4 L491.1,92.3 L491.5,94.8 L491.9,93.7 L492.3,91.6 L492.7,97.5 L493.1,94.3 L493.5,95.1 L493.9,97.3 L494.3,95.1 L494.7,95.3 L495.1,97.3 L495.5,98.4 L495.8,98.2 L496.2,95.8 L496.6,97.1 L496.9,94.7 L497.3,93.5 L497.7,96.3 L498.6,99.7 L499.1,104.3 L499.5,106.2 L499.9,107.5 L500.3,107.3 L500.7,109.8 L501.1,108.4 L501.5,109.7 L501.9,110.4 L502.3,110.8 L502.7,112.2 L503.1,112.4 L503.7,108.6 L504.1,105.5 L504.5,102.3 L506.0,98.9 L506.1,94.3 L506.5,97.6 L507.1,100.3 L507.0,103.4 L508.0,106.4 L508.2,109.2 L508.2,112.4 L508.9,109.2 L509.0,105.3 L510.2,102.3 L510.6,104.5 L511.0,99.9 L511.4,102.3 L511.8,102.4 L512.2,99.3 L512.6,97.8 L513.0,98.0 L513.4,95.6 L513.8,92.8 L514.2,92.3 L514.5,95.7 L514.4,98.4 L514.6,101.6 L515.1,104.4 L514.9,108.4 L515.8,110.8 L515.8,114.4 L516.3,110.7 L516.1,108.8 L517.2,104.3 L517.4,100.6 L517.7,98.7 L517.9,95.7 L517.8,93.0 L517.8,89.4 L517.7,85.7 L518.1,83.3 L518.2,80.2 L518.7,76.9 L519.2,78.2 L520.2,131.5 L520.5,129.0 L520.3,125.3 L521.2,122.0 L521.1,119.8 L521.3,116.5 L521.5,113.5 L521.6,110.4 L522.0,106.4 L522.3,103.5 L522.9,101.8 L523.2,96.4 L523.2,94.3 L523.6,95.1 L524.0,93.3 L524.4,90.9 L524.8,90.1 L525.2,91.3 L525.7,92.5 L526.2,89.7 L526.6,90.3 L526.9,93.8 L527.5,96.0 L527.8,100.4 L527.9,104.3 L528.5,108.7 L529.3,112.4 L529.7,114.4 L530.2,118.7 L530.2,121.7 L530.5,125.6 L531.3,128.5 L532.1,132.0 L532.2,135.4 L532.8,140.0 L532.8,142.5 L533.1,146.9 L533.4,149.6 L533.1,152.5 L533.3,154.7 L533.8,158.1 L534.3,161.3 L533.9,164.2 L533.9,161.5 L533.8,158.5 L534.5,155.1 L534.1,152.7 L534.1,149.3 L534.3,146.2 L534.3,143.3 L534.6,140.0 L534.8,137.7 L534.7,133.8 L534.5,130.0 L535.0,126.5 L535.0,123.5 L535.2,121.1 L535.1,117.9 L535.3,114.4 L535.7,112.0 L536.1,111.3 L536.5,110.3 L536.9,108.8 L537.3,106.4 L538.1,103.2 L538.7,98.3 L539.1,96.6 L539.5,96.6 L539.9,93.4 L540.3,95.3 L540.7,95.6 L541.1,91.7 L541.5,91.4 L541.9,90.5 L542.3,90.3 L543.1,86.8 L543.6,83.6 L544.3,80.2 L544.7,79.6 L545.1,79.9 L545.5,78.4 L545.9,78.9 L546.2,77.8 L546.6,80.7 L547.0,80.6 L547.4,79.2 L548.0,83.1 L548.2,86.9 L548.8,90.3 L549.2,88.3 L549.6,87.1 L550.0,89.3 L550.4,91.3 L551.2,88.4 L551.7,84.9 L551.8,82.2 L552.5,86.0 L553.1,88.4 L553.4,91.3 L553.9,93.8 L554.3,92.6 L554.8,94.3 L555.4,90.4 L555.1,87.7 L555.3,85.3 L555.9,80.7 L556.3,78.5 L556.1,75.3 L556.4,71.2 L556.9,73.4 L557.4,72.2 L557.4,75.1 L557.7,79.1 L558.0,82.4 L557.7,83.9 L557.5,88.7 L558.2,91.7 L558.0,94.3 L559.0,140.0 L559.6,200.0 L560.9,274.7 L561.8,255.0 L562.3,240.0 L563.0,215.0 L563.4,190.0 L564.5,186.4 L564.6,183.4 L564.8,180.6 L564.8,176.8 L564.6,174.4 L564.9,172.0 L564.8,167.3 L564.7,165.2 L565.6,162.1 L565.2,159.4 L565.5,156.2 L566.0,160.3 L566.2,163.7 L566.1,166.8 L566.5,170.3 L566.9,169.9 L567.3,170.9 L567.7,164.1 L568.1,166.2 L568.4,163.1 L569.0,159.5 L569.5,156.2 L569.7,152.5 L570.2,150.4 L570.2,146.8 L570.8,143.0 L570.9,140.1 L571.1,142.8 L571.6,147.7 L571.4,151.2 L571.9,152.6 L572.0,157.0 L572.1,160.2 L572.7,157.2 L572.9,154.1 L573.5,150.2 L574.0,151.3 L574.4,154.3 L574.9,152.2 L575.3,147.9 L576.1,146.4 L575.7,142.8 L576.5,140.1 L576.9,140.0 L577.3,143.5 L577.7,142.2 L578.1,144.1 L578.7,140.4 L579.0,136.8 L578.9,133.9 L579.5,130.1 L580.2,134.3 L580.9,138.1 L581.3,137.2 L581.7,139.6 L582.1,142.1 L582.5,144.1 L583.4,141.3 L583.0,136.5 L584.2,135.2 L584.2,132.1 L584.6,130.9 L585.1,134.8 L585.6,134.1 L586.1,131.8 L586.3,127.1 L586.6,124.0 L586.9,120.1 L586.8,117.0 L586.9,113.5 L586.9,110.3 L587.5,107.6 L587.6,104.3 L588.1,100.6 L588.6,96.3 L589.0,98.4 L589.4,99.0 L589.8,102.3 L590.2,100.3 L590.7,99.7 L591.2,98.3 L591.4,101.1 L591.7,105.1 L591.0,107.8 L591.5,110.6 L591.9,112.8 L591.8,116.3 L592.2,119.4 L592.9,115.8 L592.4,113.2 L592.6,110.9 L593.2,107.3 L593.0,104.2 L593.4,101.3 L593.2,98.3 L593.7,97.6 L594.1,94.7 L594.6,93.3 L595.0,95.1 L595.4,93.6 L595.8,92.7 L596.2,96.9 L596.6,94.3 L597.0,90.7 L597.4,92.9 L597.8,91.4 L598.2,89.8 L598.6,90.3 L599.0,94.1 L599.4,92.3 L599.8,91.9 L600.2,93.3 L600.6,91.0 L601.0,91.8 L601.4,90.3 L601.9,88.9 L602.3,88.3 L602.8,92.5 L603.7,95.3 L604.3,100.3 L604.2,103.4 L603.8,106.4 L604.1,109.6 L604.0,113.1 L603.8,116.6 L603.6,119.5 L603.5,123.1 L603.5,126.0 L604.3,129.8 L603.7,133.8 L604.3,136.1 L604.4,138.8 L604.7,142.1 L604.9,145.1 L605.1,148.8 L605.6,151.2 L605.8,154.6 L605.7,157.2 L606.6,153.8 L607.1,150.2 L607.7,147.2 L607.9,143.5 L608.7,140.1 L609.0,137.2 L609.8,133.7 L610.3,130.1 L610.8,128.2 L611.2,126.3 L611.7,126.0 L612.2,125.4 L612.7,122.0 L613.1,122.6 L613.5,124.1 L613.9,125.7 L614.3,127.5 L614.7,128.0 L615.1,127.7 L615.5,125.7 L615.9,125.3 L616.3,127.9 L616.7,126.0 L617.1,127.1 L617.5,128.7 L617.9,129.3 L618.3,132.1 L618.6,129.1 L618.4,124.9 L619.0,122.3 L618.7,119.4 L619.2,115.8 L619.8,112.7 L620.8,109.4 L621.2,108.3 L621.6,107.1 L622.0,109.6 L622.4,108.4 L622.4,110.5 L622.9,114.1 L622.8,116.6 L623.1,120.1 L623.4,123.2 L623.8,126.5 L624.2,130.2 L624.7,131.7 L625.2,132.1 L625.4,135.5 L625.3,137.6 L625.7,142.1 L625.6,144.2 L625.7,147.0 L626.1,150.3 L626.4,154.8 L626.3,157.1 L626.4,160.2 L626.4,163.9 L626.8,166.0 L626.7,170.3 L627.0,173.5 L627.3,177.3 L627.4,180.3 L627.9,183.7 L627.8,186.4 L628.1,190.0 L629.1,193.3 L628.7,197.0 L629.2,200.4 L629.7,198.5 L630.2,200.0 L630.1,196.8 L630.3,194.5 L630.3,190.9 L630.7,187.9 L630.9,186.1 L630.6,181.6 L630.8,178.7 L630.9,176.2 L631.5,174.2 L631.2,170.0 L631.3,165.8 L631.9,163.7 L631.7,160.5 L631.7,157.9 L631.8,154.0 L631.7,151.3 L632.2,147.2 L631.9,145.1 L632.0,141.0 L632.1,137.9 L632.5,134.8 L632.6,131.9 L632.5,128.4 L632.9,124.8 L633.3,127.0 L633.7,126.4 L633.9,122.2 L634.3,119.6 L634.3,116.6 L634.8,113.3 L634.7,109.6 L635.1,106.2 L635.5,108.4 L635.9,101.6 L636.3,102.1 L636.7,100.7 L637.1,99.2 L638.1,103.0 L638.5,106.2 L638.9,107.1 L639.3,106.8 L639.7,109.6 L640.1,108.3 L640.5,107.0 L640.9,105.3 L641.3,104.3 L641.7,103.6 L642.1,101.2 L642.5,101.7 L642.9,102.4 L643.3,103.6 L643.7,101.8 L644.1,103.2 L644.3,106.3 L644.8,109.5 L644.8,111.8 L645.1,115.0 L645.7,118.6 L645.7,121.3 L645.9,117.8 L645.7,115.4 L646.3,112.5 L646.3,109.5 L646.0,106.8 L646.9,103.3 L646.7,100.2 L647.2,100.9 L647.7,100.6 L648.2,101.2 L648.5,103.9 L648.3,107.7 L648.2,110.9 L648.8,113.8 L648.7,117.8 L648.8,120.1 L649.2,123.2 L649.2,126.4 L649.6,123.1 L649.6,119.9 L649.9,116.4 L650.2,114.0 L650.2,110.3 L650.6,107.5 L651.0,105.6 L651.4,104.6 L651.8,105.2 L652.2,104.9 L652.6,107.8 L653.0,107.7 L653.4,111.2 L653.8,109.3 L654.2,111.2 L654.6,106.4 L655.0,107.7 L655.4,107.5 L655.8,109.9 L656.2,107.3 L656.6,107.6 L657.0,107.0 L657.4,103.7 L657.8,107.0 L658.2,103.2 L658.6,101.4 L659.0,102.9 L659.4,101.2 L659.8,101.1 L660.2,102.2 L660.6,101.8 L661.0,99.3 L661.4,100.8 L661.8,99.8 L662.2,98.2 L662.6,98.1 L663.0,98.7 L663.4,99.2 L663.8,99.0 L664.2,97.2 L664.3,100.5 L665.1,103.0 L665.1,106.9 L665.7,109.3 L665.8,112.3 L666.3,109.5 L666.5,105.7 L666.5,101.6 L666.3,100.2 L666.6,96.2 L667.1,94.3 L667.5,95.0 L667.9,94.2 L668.3,94.2 L668.5,98.0 L668.9,100.5 L668.7,104.3 L669.0,106.9 L668.9,110.3 L669.4,106.5 L669.3,103.5 L669.4,100.8 L670.1,99.0 L669.9,95.2 L670.3,96.5 L670.7,95.8 L671.1,92.9 L671.5,93.4 L671.9,96.3 L672.3,96.2 L672.7,97.5 L673.1,97.3 L673.5,95.7 L673.9,95.9 L674.3,97.2 L674.7,98.7 L675.0,102.0 L675.4,100.5 L675.8,100.2 L676.2,100.8 L676.6,102.4 L676.9,102.9 L677.3,103.2 L677.7,100.8 L678.1,104.7 L678.4,102.8 L678.8,102.5 L679.2,100.7 L679.6,102.6 L679.9,102.1 L680.3,100.2 L680.7,99.0 L681.1,101.5 L681.5,98.8 L681.8,97.0 L682.2,100.8 L682.6,98.0 L683.0,98.5 L683.3,99.2 L683.8,96.8 L684.3,97.1 L684.7,96.2 L685.1,99.3 L685.7,103.0 L686.0,105.2 L686.8,101.5 L687.4,97.2 L687.7,100.6 L688.0,103.4 L687.7,105.8 L688.2,109.1 L688.3,112.0 L688.4,115.8 L688.8,118.3 L689.1,114.3 L689.1,111.6 L689.2,108.8 L689.5,104.9 L689.4,102.0 L689.8,98.2 L690.1,98.7 L690.5,98.9 L690.9,97.6 L691.3,100.9 L691.6,94.4 L692.0,97.1 L692.4,99.2 L692.8,96.9 L693.1,97.6 L693.5,98.1 L693.9,99.0 L694.3,99.4 L694.6,100.2 L695.0,102.1 L695.4,100.2 L695.8,100.4 L696.2,99.2 L696.6,98.2 L697.0,98.4 L697.4,97.2 L697.8,98.8 L698.2,96.9 L698.6,100.9 L699.0,98.8 L699.4,99.2 L699.8,100.3 L700.2,95.4 L700.6,99.1 L700.9,98.1 L701.3,100.6 L701.7,99.9 L702.1,98.8 L702.4,98.2 L702.8,99.6 L703.2,98.8 L703.6,98.4 L704.0,100.2 L704.5,102.6 L704.3,105.7 L704.4,109.1 L704.9,112.3 L705.2,113.1 L705.6,110.0 L706.0,112.0 L706.3,107.9 L706.7,108.9 L707.1,108.4 L707.5,109.3 L707.9,109.4 L708.3,109.6 L708.7,103.5 L709.1,106.2 L709.5,105.2 L709.9,108.2 L710.3,106.5 L710.7,109.4 L711.1,109.3 L711.5,108.3 L711.9,109.5 L712.3,107.8 L712.7,109.7 L713.1,113.7 L713.5,112.3 L713.9,112.0 L714.3,112.7 L714.7,114.6 L715.1,118.1 L715.5,117.3 L715.9,116.7 L716.3,113.5 L716.7,114.0 L717.1,115.1 L717.5,113.3 L718.0,113.3 L718.5,112.1 L718.9,108.3 L719.4,111.7 L719.4,114.4 L719.6,117.8 L720.3,121.2 L720.5,124.3 L720.7,121.3 L721.4,118.3 L721.5,114.3 L721.9,110.4 L722.3,109.2 L722.7,110.3 L723.2,111.9 L723.6,110.3 L724.0,110.8 L724.4,109.3 L724.8,107.3 L725.2,106.6 L725.6,105.2 L726.0,105.5 L726.4,105.5 L726.8,105.6 L727.2,112.2 L727.6,108.3 L728.0,106.7 L728.4,106.7 L728.8,105.4 L729.2,104.7 L729.6,102.2 L730.0,102.4 L730.4,104.0 L730.8,105.7 L731.2,102.1 L731.6,103.2 L732.1,106.4 L732.9,110.0 L733.6,114.3 L734.0,113.4 L734.4,112.4 L734.8,111.8 L735.2,110.5 L735.6,107.3 L736.2,110.4 L736.8,113.3 L737.6,116.3 L738.3,113.5 L739.0,109.7 L739.6,107.3 L740.0,109.5 L740.4,108.7 L740.8,107.7 L741.2,108.0 L741.6,111.3 L742.3,114.1 L742.7,119.4 L743.1,122.3 L743.4,125.8 L743.6,128.1 L743.7,130.5 L744.0,134.7 L744.1,138.0 L744.3,140.4 L744.3,142.7 L744.8,146.6 L744.5,149.4 L744.7,152.8 L744.6,155.8 L744.9,159.2 L745.0,162.2 L745.2,165.0 L745.6,168.0 L746.1,165.2 L746.6,165.0 L746.8,161.7 L747.1,158.8 L747.3,155.2 L747.0,152.3 L747.1,149.0 L747.7,145.4 L747.5,142.8 L748.1,140.6 L747.9,136.4 L748.2,132.7 L748.8,129.0 L748.8,126.1 L749.7,122.3 L750.1,122.5 L750.5,121.9 L750.9,121.9 L751.3,121.0 L751.7,120.3 L752.1,120.6 L752.5,123.6 L752.9,123.9 L753.3,125.4 L753.7,126.4 L754.2,122.9 L755.1,119.3 L755.6,115.2 L756.0,111.7 L756.7,108.3 L756.9,111.3 L756.9,115.0 L757.1,118.5 L757.3,121.6 L758.0,123.9 L757.9,128.4 L757.8,131.5 L758.2,134.6 L758.1,138.1 L758.3,141.8 L758.5,145.0 L758.7,148.5 L758.9,152.1 L758.9,154.9 L759.2,157.3 L759.3,161.2 L759.4,165.0 L760.0,168.0 L760.5,167.7 L761.0,165.0 L761.2,161.1 L761.7,157.9 L761.5,154.9 L761.5,151.2 L762.3,147.3 L762.4,144.5 L762.8,144.5 L763.3,141.3 L763.8,140.4 L764.4,135.6 L765.2,132.4 L766.0,127.9 L766.4,130.2 L766.8,130.3 L767.2,128.2 L767.7,129.4 L768.1,126.4 L768.5,129.4 L768.9,132.6 L769.0,135.2 L769.5,138.3 L769.5,142.1 L770.2,144.9 L770.7,148.7 L770.9,152.4 L771.0,154.0 L771.3,159.0 L771.6,155.4 L771.6,152.6 L772.0,148.5 L773.0,145.6 L772.8,142.8 L773.0,139.2 L773.4,141.2 L773.8,141.3 L774.2,143.3 L774.6,143.6 L775.0,144.9 L775.3,147.9 L775.8,151.6 L776.1,153.6 L776.4,157.6 L777.1,154.5 L777.8,151.2 L778.7,147.7 L779.1,147.0 L779.5,147.7 L779.9,141.9 L780.2,144.5 L780.6,143.5 L781.0,143.6 L781.4,141.6 L781.8,138.5 L782.2,137.5 L782.6,136.4 L783.0,135.2 L783.4,135.6 L783.7,135.3 L784.1,132.8 L784.5,134.4 L784.9,132.2 L785.7,127.6 L786.3,125.1 L786.7,128.6 L787.1,132.2 L787.7,135.7 L788.3,139.2 L788.6,140.0 L789.0,142.0 L789.4,141.9 L789.8,144.7 L790.1,142.6 L790.5,146.3 L790.9,146.4 L791.3,145.6 L791.6,145.7 L792.0,146.7 L792.4,145.4 L792.8,146.3 L792.5,142.5 L793.5,139.9 L793.8,136.7 L794.5,133.9 L794.7,130.8 L795.2,129.7 L795.7,130.5 L796.2,132.2 L796.7,134.9 L797.2,135.0 L797.3,138.4 L797.3,141.5 L797.3,144.1 L797.2,147.3 L797.9,151.2 L797.6,154.0 L797.3,157.6 L797.3,161.0 L797.7,162.9 L798.2,166.3 L797.9,170.0 L797.9,173.2 L797.8,176.7 L797.9,179.7 L798.0,183.8 L798.3,187.0 L798.3,189.6 L798.6,192.8 L798.6,196.0 L798.7,199.6 L798.9,202.2 L799.2,203.9 L799.1,208.3" fill="none" stroke="#444444" stroke-width="1.9" stroke-linejoin="round"/>
<polygon points="200.6,280 201.9,300 202.5,322 203.8,354 206.7,361.8 207.9,350 207.9,326 206.4,326 205.4,322 204.9,300 203.3,280" fill="#444"/>
<polygon points="558.2,184 558.9,240 560.5,275.2 561.3,275.2 562.4,240.5 564.0,240 564.3,193 562,188" fill="#444"/>
<!-- axes -->
<g fill="#000">
<rect x="67" y="22.9" width="2" height="408.9"/>
<rect x="814" y="22.9" width="2" height="408.9"/>
<rect x="60" y="429.8" width="762" height="2"/>
<rect x="60" y="22.9" width="8" height="2"/><rect x="815" y="22.9" width="7" height="2"/>
<rect x="60" y="81.03" width="8" height="2"/><rect x="815" y="81.03" width="7" height="2"/>
<rect x="60" y="139.16" width="8" height="2"/><rect x="815" y="139.16" width="7" height="2"/>
<rect x="60" y="197.29000000000002" width="8" height="2"/><rect x="815" y="197.29000000000002" width="7" height="2"/>
<rect x="60" y="255.42000000000002" width="8" height="2"/><rect x="815" y="255.42000000000002" width="7" height="2"/>
<rect x="60" y="313.55" width="8" height="2"/><rect x="815" y="313.55" width="7" height="2"/>
<rect x="60" y="371.68" width="8" height="2"/><rect x="815" y="371.68" width="7" height="2"/>
<rect x="60" y="429.81" width="8" height="2"/><rect x="815" y="429.81" width="7" height="2"/>
<rect x="67.0" y="430" width="2" height="7.8"/>
<rect x="161.3" y="430" width="2" height="7.8"/>
<rect x="255.6" y="430" width="2" height="7.8"/>
<rect x="349.9" y="430" width="2" height="7.8"/>
<rect x="444.2" y="430" width="2" height="7.8"/>
<rect x="538.5" y="430" width="2" height="7.8"/>
<rect x="632.8" y="430" width="2" height="7.8"/>
<rect x="727.1" y="430" width="2" height="7.8"/>
</g>
<text x="46.3" y="32.5" text-anchor="end">2</text><text x="835.9" y="32.5">2</text>
<text x="46.3" y="90.63" text-anchor="end">0</text><text x="835.9" y="90.63">0</text>
<text x="46.3" y="148.76" text-anchor="end">-2</text><text x="835.9" y="148.76">-2</text>
<text x="46.3" y="206.89000000000001" text-anchor="end">-4</text><text x="835.9" y="206.89000000000001">-4</text>
<text x="46.3" y="265.02000000000004" text-anchor="end">-6</text><text x="835.9" y="265.02000000000004">-6</text>
<text x="46.3" y="323.15000000000003" text-anchor="end">-8</text><text x="835.9" y="323.15000000000003">-8</text>
<text x="46.3" y="381.28000000000003" text-anchor="end">-10</text><text x="835.9" y="381.28000000000003">-10</text>
<text x="46.3" y="439.41" text-anchor="end">-12</text><text x="835.9" y="439.41">-12</text>
<text x="68.0" y="465" text-anchor="middle">2015</text>
<text x="162.3" y="465" text-anchor="middle">2016</text>
<text x="256.6" y="465" text-anchor="middle">2017</text>
<text x="350.9" y="465" text-anchor="middle">2018</text>
<text x="445.2" y="465" text-anchor="middle">2019</text>
<text x="539.5" y="465" text-anchor="middle">2020</text>
<text x="633.8" y="465" text-anchor="middle">2021</text>
<text x="728.1" y="465" text-anchor="middle">2022</text>

<!-- legend -->
<rect x="121" y="33.1" width="42" height="1.8" fill="#7c7cf4"/>
<text x="166" y="42.9">G10</text>
<rect x="250" y="33.1" width="42" height="1.8" fill="#444"/>
<text x="295" y="42.9">GBP</text>
<!-- annotations -->
<text x="81.5" y="229.5" letter-spacing="-0.25">Brexit</text>
<text x="81.5" y="258.4" letter-spacing="-0.35">vote</text>
<line x1="140.4" y1="250.3" x2="172" y2="236.5" stroke="#000" stroke-width="2"/>
<polygon points="181.9,232.2 168.4,231.3 174,242.4" fill="#000"/>
<text x="366.5" y="242.5">UK-EU</text>
<text x="366.5" y="271.9" letter-spacing="0.2">negotiations</text>
<path d="M396.6,180.8 L396.6,185.4 Q396.6,187.4 398.6,187.4 L529.8,187.4 Q531.8,187.4 531.8,185.4 L531.8,180.8 M464,187.4 L464,195.6" fill="none" stroke="#000" stroke-width="2"/>
<text x="538" y="353.5" letter-spacing="-0.15">COVID-19</text>
<text x="538" y="382.8" letter-spacing="0.15">starts</text>
<line x1="528" y1="345.8" x2="536.8" y2="298" stroke="#000" stroke-width="2"/>
<polygon points="538.8,287.2 530.7,298.1 543.1,300.3" fill="#000"/>
<text x="120" y="385.2" letter-spacing="0.09">Cost of hedging depreciation</text>
<text x="120" y="414.5" letter-spacing="0.15">vs USD increases</text>
<line x1="95.8" y1="364.2" x2="96.8" y2="402" stroke="#000" stroke-width="2"/>
<polygon points="96.8,413.3 90.5,400.8 103,400.8" fill="#000"/>
</svg>
</body></html>
